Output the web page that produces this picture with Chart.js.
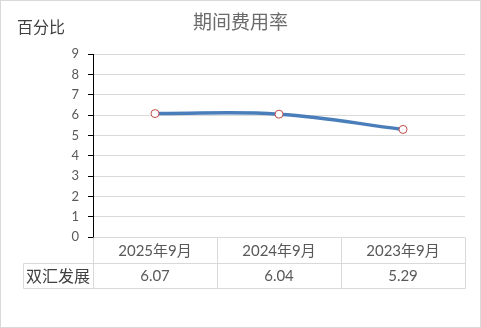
<!DOCTYPE html>
<html>
<head>
<meta charset="utf-8">
<script src="https://cdn.jsdelivr.net/npm/chart.js@4.4.0/dist/chart.umd.min.js"></script>
<style>
  html, body { margin: 0; padding: 0; background: #fff; }
  canvas { display: block; }
</style>
</head>
<body>
<canvas id="chart" width="481" height="328"></canvas>
<script>
// 期间费用率 — line chart with a data table underneath
const categories = ['2025年9月', '2024年9月', '2023年9月'];
const seriesName = '双汇发展';
const seriesValues = [6.07, 6.04, 5.29];
const yTicks = [0, 1, 2, 3, 4, 5, 6, 7, 8, 9];

const FONT = "Lato, 'Noto Sans CJK SC', sans-serif";
const GRID = '#d9d9d9';

// white background, thin frame, title and unit label
const frame = {
  id: 'frame',
  beforeDraw(chart) {
    const { ctx, width, height } = chart;
    ctx.save();
    ctx.fillStyle = '#fff';
    ctx.fillRect(0, 0, width, height);
    ctx.strokeStyle = GRID;
    ctx.lineWidth = 1;
    ctx.strokeRect(0.5, 0.5, width - 1, height - 1);
    ctx.restore();
  },
  afterDraw(chart) {
    const { ctx, width } = chart;
    ctx.save();
    ctx.textBaseline = 'middle';
    ctx.fillStyle = '#6b6b6b';
    ctx.font = '19px ' + FONT;
    ctx.textAlign = 'center';
    ctx.fillText('期间费用率', width / 2, 23);
    ctx.fillStyle = '#404040';
    ctx.font = '16px ' + FONT;
    ctx.textAlign = 'left';
    ctx.fillText('百分比', 17, 28);
    ctx.restore();
  }
};

// data table drawn below the plot, columns follow the category scale
const dataTable = {
  id: 'dataTable',
  afterDraw(chart) {
    const { ctx, chartArea: a, scales: { x } } = chart;
    const n = categories.length;
    const centers = categories.map((_, i) => x.getPixelForValue(i));
    const edges = [a.left];
    for (let i = 1; i < n; i++) edges.push((centers[i - 1] + centers[i]) / 2);
    edges.push(a.right);

    const px = v => Math.round(v) + 0.5;
    const top = a.bottom;
    const mid = top + 26;
    const bot = mid + 25;
    const nameLeft = a.left - 70;

    ctx.save();
    ctx.strokeStyle = GRID;
    ctx.lineWidth = 1;
    ctx.beginPath();
    ctx.moveTo(px(nameLeft), px(mid)); ctx.lineTo(px(a.right), px(mid));
    ctx.moveTo(px(nameLeft), px(bot)); ctx.lineTo(px(a.right), px(bot));
    ctx.moveTo(px(nameLeft), px(mid)); ctx.lineTo(px(nameLeft), px(bot));
    edges.forEach(e => { ctx.moveTo(px(e), px(top)); ctx.lineTo(px(e), px(bot)); });
    ctx.stroke();

    ctx.textAlign = 'center';
    ctx.textBaseline = 'middle';
    ctx.font = '15px ' + FONT;
    ctx.fillStyle = '#595959';
    categories.forEach((c, i) => ctx.fillText(c, centers[i], (top + mid) / 2 + 1));
    seriesValues.forEach((v, i) => ctx.fillText(v.toFixed(2), centers[i], (mid + bot) / 2 + 1));

    ctx.fillStyle = '#404040';
    ctx.font = '16px ' + FONT;
    ctx.fillText(seriesName, (nameLeft + a.left) / 2, (mid + bot) / 2 + 1);
    ctx.restore();
  }
};

new Chart(document.getElementById('chart'), {
  type: 'line',
  data: {
    labels: categories,
    datasets: [{
      label: seriesName,
      data: seriesValues,
      borderColor: '#4a7ebb',
      borderWidth: 3.5,
      tension: 0.4,
      pointRadius: 4,
      pointBorderWidth: 1,
      pointBorderColor: '#c0504d',
      pointBackgroundColor: '#fff'
    }]
  },
  options: {
    animation: false,
    responsive: false,
    devicePixelRatio: 1,
    layout: { padding: { left: 0, right: 16, top: 54, bottom: 91 } },
    plugins: {
      legend: { display: false },
      tooltip: { enabled: false },
      title: { display: false }
    },
    scales: {
      x: { type: 'category', offset: true, display: false },
      y: {
        min: 0,
        max: 9,
        afterBuildTicks(scale) { scale.ticks = yTicks.map(v => ({ value: v })); },
        afterFit(scale) { scale.width = 93; },
        ticks: { color: '#595959', padding: 9, font: { family: FONT, size: 13 } },
        grid: { color: GRID, tickColor: '#000', tickLength: 5, lineWidth: 1 },
        border: { color: '#000', width: 1 }
      }
    }
  },
  plugins: [frame, dataTable]
});
</script>
</body>
</html>
